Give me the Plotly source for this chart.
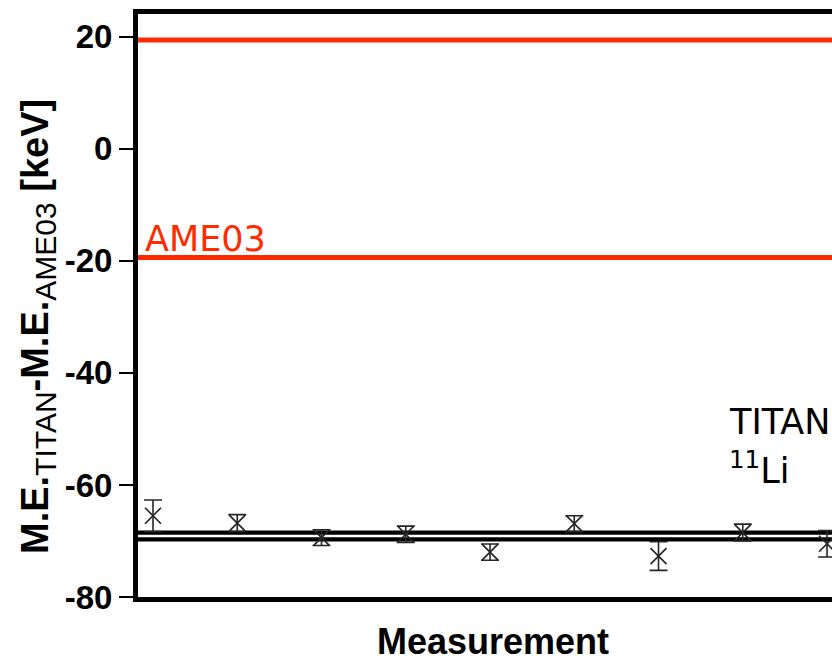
import plotly.graph_objects as go

# Individual TITAN measurements of the 11Li mass excess, relative to AME03 (keV)
measurement = [1, 2, 3, 4, 5, 6, 7, 8, 9]
delta_me = [-65.5, -66.8, -69.4, -68.8, -72.0, -66.9, -72.7, -68.5, -70.5]
delta_err = [2.8, 1.5, 1.4, 1.45, 1.45, 1.4, 2.55, 1.5, 2.35]

# AME03 uncertainty band (+/-) and the TITAN weighted-mean band
ame03_band = [19.4, -19.4]
titan_band = [-68.5, -69.7]

y_ticks = [20, 0, -20, -40, -60, -80]
y_tick_text = ["20", "0", "-20", "-40", "-60", "-80"]

W, H = 832, 660
L, R, T, B = 138, 0, 14, 63
x_range = [0.822, 9.059]
y_range = [-80, 24.05]

RED = "#ff2a00"
MARK = "#262626"


def px_x(px):
    return (px - L) / (W - L - R)


def px_y(py):
    return (H - B - py) / (H - T - B)


fig = go.Figure()

for v in ame03_band:
    fig.add_hline(y=v, line=dict(color=RED, width=5), layer="below")
for v in titan_band:
    fig.add_hline(y=v, line=dict(color="black", width=4.3), layer="below")

fig.add_trace(go.Scatter(
    x=measurement, y=delta_me, mode="markers",
    marker=dict(symbol="x-thin", size=16, line=dict(color=MARK, width=1.7)),
    error_y=dict(type="data", array=delta_err, visible=True,
                 color=MARK, thickness=1.6, width=9),
    cliponaxis=False, showlegend=False,
))

bold_title = dict(family="Liberation Sans, Arial", size=38, color="black")
sub = '<sub><span style="font-size:30px;font-weight:normal">{}</span></sub>'
y_title = ("<b>M.E.</b>" + sub.format("TITAN") + "<b>-M.E.</b>"
           + sub.format("AME03") + "<b> [keV]</b>")

annotations = [
    dict(text=y_title, textangle=-90, xref="paper", yref="paper",
         x=px_x(38), y=px_y(327), xanchor="center", yanchor="middle",
         showarrow=False, font=bold_title),
    dict(text="<b>Measurement</b>", xref="paper", yref="paper",
         x=px_x(493), y=px_y(641),
         xanchor="center", yanchor="middle", showarrow=False,
         font=dict(family="Liberation Sans, Arial", size=36, color="black")),
    dict(text="AME03", xref="paper", yref="paper",
         x=px_x(143), y=px_y(239), xanchor="left", yanchor="middle",
         showarrow=False,
         font=dict(family="DejaVu Sans", size=35, color=RED)),
    dict(text="TITAN", xref="paper", yref="paper",
         x=px_x(727), y=px_y(422), xanchor="left", yanchor="middle",
         showarrow=False,
         font=dict(family="DejaVu Sans", size=35, color="black")),
    dict(text="<sup>11</sup>Li", xref="paper", yref="paper",
         x=px_x(727), y=px_y(468), xanchor="left", yanchor="middle",
         showarrow=False,
         font=dict(family="DejaVu Sans", size=35, color="black")),
]

fig.update_layout(
    width=W, height=H,
    margin=dict(l=L, r=R, t=T, b=B, pad=0),
    paper_bgcolor="white", plot_bgcolor="white",
    annotations=annotations,
    xaxis=dict(range=x_range, showgrid=False, zeroline=False,
               showticklabels=False, ticks="",
               showline=True, linecolor="black", linewidth=5, mirror=True),
    yaxis=dict(range=y_range, showgrid=False, zeroline=False,
               tickvals=y_ticks, ticktext=y_tick_text,
               ticks="outside", ticklen=14, tickwidth=2, tickcolor="black",
               tickfont=dict(family="Liberation Sans, Arial", size=33,
                             color="black", weight="bold"),
               showline=True, linecolor="black", linewidth=5, mirror=False),
)

fig.write_html("out.html")
